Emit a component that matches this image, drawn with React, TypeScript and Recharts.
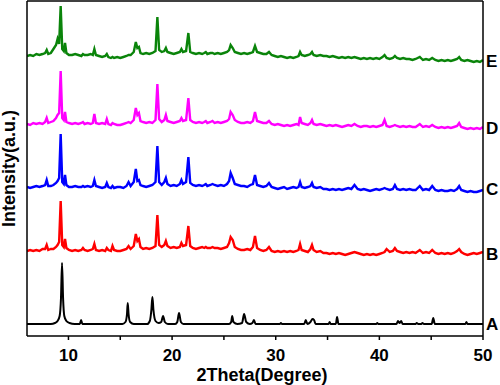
import { LineChart, Line, XAxis, YAxis, ReferenceLine } from "recharts"

const FONT = "'Liberation Sans', Arial, Helvetica, sans-serif"

// 2Theta (degree) sample positions for the measured patterns B-E
const theta = [
  6.0, 6.3, 6.6, 6.9, 7.2, 7.5, 7.75, 7.9, 8.05, 8.3,
  8.55, 8.8, 8.95, 9.1, 9.25, 9.4, 9.55, 9.67, 9.8, 10.05,
  10.35, 10.65, 10.95, 11.25, 11.4, 11.55, 11.85, 12.15, 12.35, 12.5,
  12.65, 12.95, 13.25, 13.55, 13.7, 13.85, 14.1, 14.25, 14.4, 14.7,
  15.0, 15.3, 15.6, 15.8, 16.0, 16.3, 16.5, 16.65, 16.8, 16.95,
  17.2, 17.5, 17.8, 18.1, 18.4, 18.58, 18.75, 19.0, 19.25, 19.4,
  19.55, 19.85, 20.15, 20.45, 20.75, 20.9, 21.05, 21.35, 21.57, 21.75,
  22.0, 22.3, 22.6, 22.9, 23.1, 23.25, 23.4, 23.7, 23.9, 24.1,
  24.4, 24.7, 25.0, 25.3, 25.5, 25.65, 25.85, 26.05, 26.35, 26.65,
  26.95, 27.25, 27.55, 27.8, 28.0, 28.2, 28.5, 28.8, 29.1, 29.35,
  29.6, 29.9, 30.2, 30.5, 30.8, 31.1, 31.4, 31.7, 32.0, 32.2,
  32.35, 32.5, 32.8, 33.1, 33.35, 33.5, 33.65, 33.95, 34.3, 34.6,
  34.9, 35.2, 35.5, 35.8, 36.1, 36.4, 36.7, 37.0, 37.3, 37.6,
  37.9, 38.2, 38.5, 38.8, 39.1, 39.4, 39.7, 40.0, 40.3, 40.5,
  40.7, 41.0, 41.3, 41.5, 41.7, 42.0, 42.3, 42.6, 42.9, 43.2,
  43.5, 43.9, 44.2, 44.5, 44.8, 45.1, 45.4, 45.7, 46.0, 46.3,
  46.6, 46.9, 47.2, 47.5, 47.7, 47.9, 48.2, 48.5, 48.8, 49.1,
  49.4, 49.7, 50.0,
]

const patternB = [
  0, 1, 0, 1, 0, 2, 2, 6, 1, 2,
  2, 4, 6, 9, 50, 6, 4, 12, 3, 1,
  0, 1, 0, 1, 3, 1, 0, 1, 2, 7,
  1, 0, 1, 0, 3, 1, 0, 5, 1, 0,
  0, 1, 2, 5, 2, 5, 17, 10, 12, 4,
  2, 3, 2, 3, 5, 36, 6, 4, 6, 10,
  5, 3, 4, 3, 4, 8, 5, 6, 25, 5,
  3, 2, 3, 4, 3, 4, 3, 3, 4, 3,
  3, 2, 3, 4, 8, 14, 11, 4, 2, 1,
  1, 2, 1, 4, 15, 3, 1, 0, 1, 4,
  0, -1, 0, -1, 0, -1, 0, -1, 0, 1,
  7, 1, 0, -1, 2, 6, 1, -1, 0, -2,
  -2, -3, -2, -3, -2, -3, -4, -3, -2, -1,
  -2, -3, -4, -3, -4, -3, -4, -3, -2, -1,
  2, -1, 0, 3, 0, -1, -2, -1, -2, -1,
  -2, 1, -2, -1, -2, 1, -2, -3, -2, -3,
  -2, -3, -2, 0, 2, -1, -3, -4, -3, -2,
  -3, -2, -1,
]

const patternC = [
  1, 0, 1, 2, 1, 2, 3, 8, 2, 2,
  3, 5, 7, 10, 54, 6, 4, 13, 3, 1,
  1, 2, 1, 1, 2, 1, 2, 1, 2, 8,
  2, 1, 0, 1, 5, 1, 0, 2, 0, 1,
  1, 0, 2, 6, 2, 6, 19, 7, 8, 3,
  2, 1, 2, 3, 6, 42, 6, 3, 6, 10,
  4, 2, 3, 2, 4, 8, 4, 6, 31, 5,
  3, 2, 3, 2, 3, 4, 2, 3, 4, 3,
  2, 3, 2, 4, 7, 15, 10, 4, 3, 2,
  2, 1, 3, 4, 13, 3, 2, 1, 2, 5,
  1, 0, -1, 0, 1, -1, 0, 1, 0, 1,
  6, 1, 0, 1, 2, 5, 1, 0, 1, -1,
  -1, -2, -1, -2, -1, -2, -1, 0, -1, 3,
  -1, -2, -1, -2, -3, -2, -1, -2, -1, 0,
  -1, -2, -1, 3, -1, -2, -1, -2, -1, -2,
  -2, 2, -2, -1, -2, 2, -2, -3, -2, -3,
  -3, -2, -3, -1, 2, -2, -3, -4, -3, -4,
  -4, -3, -2,
]

const patternD = [
  1, 0, 2, 1, 2, 1, 3, 7, 2, 3,
  4, 7, 10, 12, 54, 7, 5, 13, 3, 2,
  1, 2, 1, 2, 3, 1, 2, 1, 2, 11,
  2, 1, 2, 1, 6, 1, 0, 2, 1, 0,
  0, 1, 2, 3, 2, 5, 17, 10, 12, 4,
  3, 2, 3, 2, 5, 41, 6, 3, 5, 10,
  4, 3, 2, 3, 4, 7, 4, 5, 27, 5,
  3, 2, 3, 2, 3, 4, 2, 3, 4, 2,
  3, 2, 3, 4, 6, 13, 10, 5, 3, 2,
  2, 3, 2, 4, 13, 4, 3, 2, 2, 4,
  1, 0, 1, 0, -1, 0, -1, 0, 1, 0,
  8, 2, 1, 0, 2, 5, 1, 0, 1, 0,
  -1, 0, -1, 0, -1, -2, -1, 0, -1, 1,
  -1, -2, -1, -1, -2, -1, -2, -1, 0, 5,
  -1, -2, -1, 0, -1, -2, -1, -2, -1, -2,
  -2, 1, -2, -1, -2, 0, -2, -3, -2, -3,
  -2, -3, -2, -1, 2, -2, -3, -4, -3, -4,
  -3, -4, -2,
]

const patternE = [
  1, 2, 1, 3, 2, 3, 4, 7, 3, 4,
  8, 12, 18, 13, 51, 8, 6, 14, 4, 2,
  2, 3, 2, 1, 3, 2, 2, 3, 2, 8,
  2, 1, 0, 1, 3, 0, -1, 0, -1, 0,
  -1, 0, 1, 2, 2, 5, 15, 9, 10, 4,
  3, 4, 3, 4, 6, 40, 7, 5, 6, 9,
  5, 4, 3, 4, 5, 8, 5, 6, 24, 5,
  4, 3, 4, 3, 4, 5, 3, 4, 4, 3,
  4, 3, 4, 5, 7, 12, 9, 5, 4, 3,
  4, 3, 4, 5, 11, 5, 4, 3, 3, 5,
  2, 1, 0, 1, 0, -1, 0, -1, 0, 1,
  5, 2, 1, 2, 3, 5, 2, 1, 2, 1,
  1, 0, 1, 0, -1, 0, -1, 0, -1, 0,
  -1, -2, -1, -2, -1, -2, -1, -2, 0, 2,
  -1, -2, -1, 1, -1, -2, -1, -2, -2, -3,
  -2, 0, -3, -2, -3, -1, -3, -4, -3, -4,
  -3, -4, -3, -2, 0, -3, -4, -3, -4, -5,
  -4, -5, -3,
]

// simulated reference pattern A
const thetaA = [
  6, 8.3, 8.7, 8.95, 9.15, 9.28, 9.38, 9.48, 9.6, 9.8,
  10.1, 10.6, 11.1, 11.22, 11.34, 15.2, 15.5, 15.65, 15.72, 15.8,
  15.95, 16.3, 17.6, 17.85, 18.0, 18.1, 18.2, 18.4, 18.7, 18.95,
  19.13, 19.3, 19.6, 20.3, 20.5, 20.67, 20.85, 21.1, 25.5, 25.7,
  25.8, 25.92, 26.3, 26.75, 26.95, 27.15, 27.5, 27.75, 27.9, 28.05,
  30.4, 30.5, 30.6, 32.75, 32.9, 33.05, 33.35, 33.55, 33.7, 33.85,
  35.1, 35.2, 35.3, 35.8, 35.92, 36.05, 39.7, 39.8, 39.9, 41.65,
  41.8, 41.95, 42.1, 42.25, 43.5, 43.6, 43.75, 44.05, 44.15, 44.3,
  45.05, 45.2, 45.35, 48.3, 48.4, 48.5, 50,
]
const patternA = [
  0, 0, 1, 3, 8, 26, 61, 26, 8, 3,
  1, 0, 0, 4, 0, 0, 2, 10, 21, 10,
  2, 0, 0, 3, 14, 27, 14, 3, 1, 2,
  8, 2, 0, 0, 2, 11, 2, 0, 0, 2,
  8, 2, 0, 1, 10, 2, 0, 1, 4, 0,
  0, 1, 0, 0, 4, 0, 2, 5, 4, 0,
  0, 2, 0, 0, 7, 0, 0, 1, 0, 0,
  3, 1, 3, 0, 0, 1, 0, 0, 1, 0,
  0, 6, 0, 0, 2, 0, 0,
]

const seriesNames = ["A", "B", "C", "D", "E"]
const seriesOffsets = [12, 85, 148, 211, 279]
const labelLevels = [12, 82, 147, 208, 275]
const xTicks = [10, 15, 20, 25, 30, 35, 40, 45, 50]

const colors = ["#000000", "#ff0000", "#0000ff", "#ff00ff", "#0a840a"]

const toPoints = (xs: number[], ys: number[], offset: number) =>
  xs.map((t, i) => ({ t, v: ys[i] + offset }))

const series = [
  toPoints(thetaA, patternA, seriesOffsets[0]),
  toPoints(theta, patternB, seriesOffsets[1]),
  toPoints(theta, patternC, seriesOffsets[2]),
  toPoints(theta, patternD, seriesOffsets[3]),
  toPoints(theta, patternE, seriesOffsets[4]),
]

const tickStyle = { fontSize: 17, fontWeight: "bold", fill: "#000", fontFamily: FONT }

export default function App() {
  return (
    <div style={{ position: "absolute", left: 0, top: 0 }}>
      <LineChart width={500} height={385} margin={{ top: 1, right: 0, bottom: 0, left: 0 }}>
        <XAxis
          dataKey="t"
          type="number"
          domain={[6, 50]}
          allowDataOverflow
          ticks={xTicks}
          tickFormatter={(v: number) => (v % 10 === 0 ? String(v) : "")}
          tick={tickStyle}
          tickSize={4}
          tickMargin={9}
          height={49}
          axisLine={{ stroke: "#000", strokeWidth: 1.5 }}
          tickLine={{ stroke: "#000", strokeWidth: 1.5 }}
          label={{
            value: "2Theta(Degree)",
            position: "insideBottom",
            offset: 4,
            dx: 7,
            fill: "#000",
            style: { fontSize: 18, fontWeight: "bold", fontFamily: FONT, fill: "#000" },
          }}
        />
        <YAxis
          yAxisId="left"
          type="number"
          domain={[0, 335]}
          allowDataOverflow
          width={27}
          tick={false}
          tickLine={false}
          axisLine={{ stroke: "#000", strokeWidth: 1.5 }}
          label={{
            value: "Intensity(a.u.)",
            angle: -90,
            position: "insideLeft",
            offset: 9,
            fill: "#000",
            style: { textAnchor: "middle", fontSize: 18, fontWeight: "bold", fontFamily: FONT, fill: "#000" },
          }}
        />
        <YAxis
          yAxisId="right"
          orientation="right"
          type="number"
          domain={[0, 335]}
          allowDataOverflow
          width={17}
          ticks={labelLevels}
          interval={0}
          tickFormatter={(v: number) => seriesNames[labelLevels.indexOf(v)] ?? ""}
          tick={{ ...tickStyle, textAnchor: "start" }}
          tickLine={false}
          tickSize={1}
          tickMargin={2}
          axisLine={{ stroke: "#000", strokeWidth: 1.5 }}
        />
        <ReferenceLine yAxisId="left" y={335} stroke="#000" strokeWidth={1.5} />
        {series.map((pts, i) => (
          <Line
            key={seriesNames[i]}
            yAxisId="left"
            data={pts}
            dataKey="v"
            type={i === 0 ? "monotone" : "linear"}
            stroke={colors[i]}
            strokeWidth={i === 0 ? 2 : 2.4}
            dot={false}
            isAnimationActive={false}
          />
        ))}
      </LineChart>
    </div>
  )
}
